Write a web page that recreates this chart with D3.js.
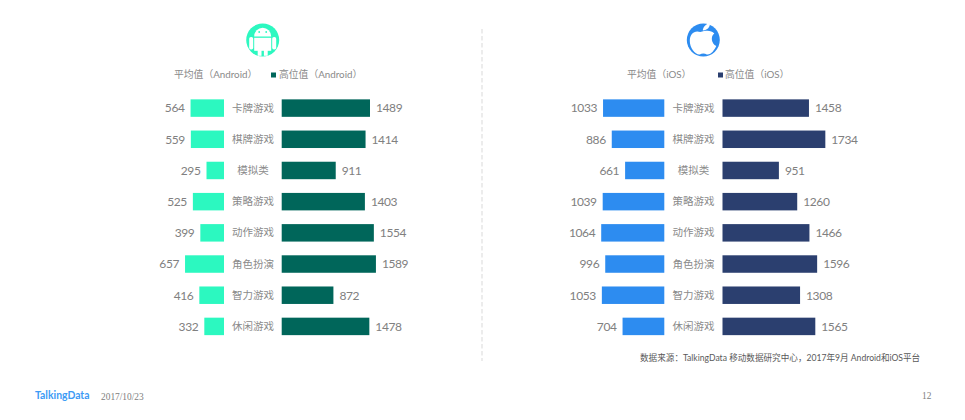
<!DOCTYPE html>
<html>
<head>
<meta charset="utf-8">
<script src="https://cdnjs.cloudflare.com/ajax/libs/d3/7.8.5/d3.min.js"></script>
<style>
  html, body { margin: 0; padding: 0; background: #fff; }
  text { font-family: "Lato", "Noto Sans CJK SC", sans-serif; fill: #808080; }
</style>
</head>
<body>
<svg id="chart" width="965" height="420"></svg>
<script>
var categories = ["卡牌游戏", "棋牌游戏", "模拟类", "策略游戏", "动作游戏", "角色扮演", "智力游戏", "休闲游戏"];
var androidAvg = [564, 559, 295, 525, 399, 657, 416, 332];
var androidHigh = [1489, 1414, 911, 1403, 1554, 1589, 872, 1478];
var iosAvg = [1033, 886, 661, 1039, 1064, 996, 1053, 704];
var iosHigh = [1458, 1734, 951, 1260, 1466, 1596, 1308, 1565];

var svg = d3.select("#chart");

var y = d3.scaleBand().domain(categories).range([92.5, 342]).paddingInner(0.44).paddingOuter(0.22);
var w = d3.scaleLinear().domain([0, 1000]).range([0, 59.3]);

function drawPanel(avg, high, leftEdge, rightEdge, labelX, avgColor, highColor) {
    var g = svg.append("g");
    categories.forEach(function (c, i) {
        var cy = y(c) + y.bandwidth() / 2;
        g.append("rect")
            .attr("x", leftEdge - w(avg[i]))
            .attr("y", y(c))
            .attr("width", w(avg[i]))
            .attr("height", y.bandwidth())
            .attr("fill", avgColor);
        g.append("rect")
            .attr("x", rightEdge)
            .attr("y", y(c))
            .attr("width", w(high[i]))
            .attr("height", y.bandwidth())
            .attr("fill", highColor);
        g.append("text")
            .attr("x", leftEdge - w(avg[i]) - 6)
            .attr("y", cy + 4.3)
            .attr("text-anchor", "end")
            .attr("font-size", 12)
            .attr("letter-spacing", -0.4)
            .text(avg[i]);
        g.append("text")
            .attr("x", rightEdge + w(high[i]) + 6)
            .attr("y", cy + 4.3)
            .attr("font-size", 12)
            .attr("letter-spacing", -0.4)
            .text(high[i]);
        g.append("text")
            .attr("x", labelX)
            .attr("y", cy + 3.5)
            .attr("text-anchor", "middle")
            .attr("font-size", 10.5)
            .style("fill", "#8a8a8a")
            .text(c);
    });
}

drawPanel(androidAvg, androidHigh, 224, 281.7, 253, "#2cf8c0", "#00665a");
drawPanel(iosAvg, iosHigh, 664.3, 722.5, 693.5, "#2d8cf0", "#2b3f6f");

// legends
function legend(x1, label1, swatchX, x2, label2, color) {
    svg.append("text").attr("x", x1).attr("y", 78).attr("font-size", 9.8).style("fill", "#8a8a8a").text(label1);
    svg.append("rect").attr("x", swatchX).attr("y", 72.5).attr("width", 5).attr("height", 5).attr("fill", color);
    svg.append("text").attr("x", x2).attr("y", 78).attr("font-size", 9.8).style("fill", "#8a8a8a").text(label2);
}
legend(174, "平均值（Android）", 271, 279, "高位值（Android）", "#00665a");
legend(627, "平均值（iOS）", 718, 725, "高位值（iOS）", "#2b3f6f");

// divider
svg.append("line")
    .attr("x1", 482).attr("x2", 482).attr("y1", 29).attr("y2", 361)
    .attr("stroke", "#e6e6e6").attr("stroke-width", 1.5).attr("stroke-dasharray", "4.5,2.5");

// android icon
var a = svg.append("g").attr("transform", "translate(262.7,40)");
a.append("circle").attr("r", 16.5).attr("fill", "#2cf8c0");
a.append("path").attr("d", "M-8.5,-3.5 A8.5,8.8 0 0 1 8.5,-3.5 Z").attr("fill", "#fff");
a.append("circle").attr("cx", -3.5).attr("cy", -8).attr("r", 0.9).attr("fill", "#2cf8c0");
a.append("circle").attr("cx", 3.5).attr("cy", -8).attr("r", 0.9).attr("fill", "#2cf8c0");
a.append("rect").attr("x", -8.5).attr("y", -2.2).attr("width", 17).attr("height", 13).attr("fill", "#fff");
a.append("rect").attr("x", -13.5).attr("y", -3).attr("width", 4).attr("height", 12.5).attr("rx", 1.8).attr("fill", "#fff");
a.append("rect").attr("x", 9.5).attr("y", -3).attr("width", 4).attr("height", 12.5).attr("rx", 1.8).attr("fill", "#fff");
a.append("rect").attr("x", -5).attr("y", 10).attr("width", 3.8).attr("height", 5.8).attr("fill", "#fff");
a.append("rect").attr("x", 1.2).attr("y", 10).attr("width", 3.8).attr("height", 5.8).attr("fill", "#fff");

// ios icon
var b = svg.append("g").attr("transform", "translate(703.3,40)");
b.append("circle").attr("r", 16.5).attr("fill", "#2d8cf0");
b.append("path").attr("d", "M-3,-8 C-9,-10 -13.5,-6 -13.5,1 C-13.5,8 -8,15 -3.5,14.5 C-1.5,13.2 1.5,13.2 3.5,14.5 C8,15 11,10 13,6 C8,4 7,-4 11,-6.5 C8,-10 3,-10 -3,-8 Z").attr("fill", "#fff");
b.append("path").attr("d", "M-0.5,-9.5 C-0.5,-13 3,-16.5 6.5,-16.8 C7,-13 4,-10 -0.5,-9.5 Z").attr("fill", "#fff");

// footer
svg.append("text").attr("x", 640).attr("y", 361).attr("font-size", 8.6).style("fill", "#595959")
    .text("数据来源：TalkingData 移动数据研究中心，2017年9月 Android和iOS平台");
svg.append("text").attr("x", 35).attr("y", 399).attr("font-size", 10.4).attr("font-weight", 700).style("fill", "#3d9bf5").text("TalkingData");
svg.append("text").attr("x", 101).attr("y", 400).attr("font-size", 9.4).style("font-family", "Liberation Serif").text("2017/10/23");
svg.append("text").attr("x", 922).attr("y", 399).attr("font-size", 9.4).style("font-family", "Liberation Serif").text("12");
</script>
</body>
</html>
